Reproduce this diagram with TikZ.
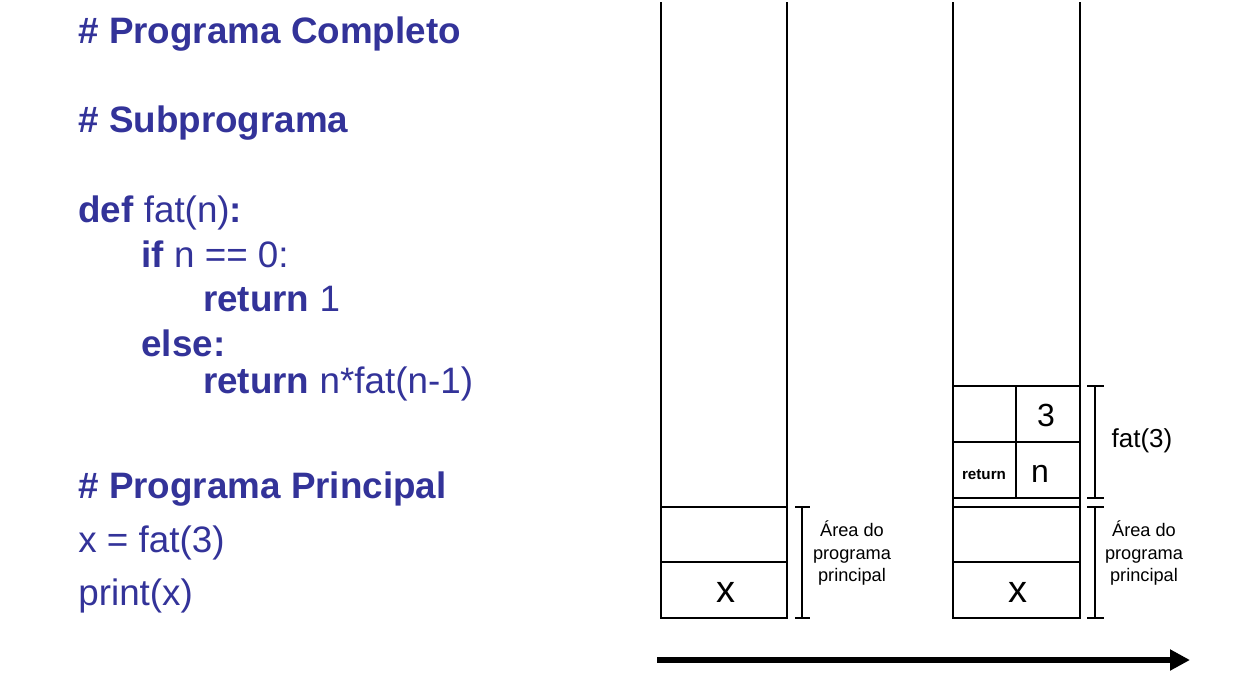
\documentclass[tikz,border=0pt]{standalone}
\usepackage{fontspec}
\setmainfont{Liberation Sans}
\usetikzlibrary{arrows.meta}
\definecolor{codeblue}{RGB}{51,51,153}

\begin{document}
\begin{tikzpicture}[x=0.5pt,y=-0.5pt,
  code/.style={anchor=base west,inner sep=0pt,text=codeblue,font=\fontsize{18.4}{22}\selectfont},
  stk/.style={line width=0.6pt},
  lbl/.style={inner sep=0pt,align=center,font=\fontsize{9.1}{11.3}\selectfont},
  val/.style={inner sep=0pt,font=\fontsize{16}{18}\selectfont}]
\useasboundingbox (0,0) rectangle (1258,676);
% program text
\node[code] (hCompleto) at (78,43.5) {\bfseries\# Programa Completo};
\node[code] (hSub) at (78,132) {\bfseries\# Subprograma};
\node[code] (lDef) at (78,222.5) {{\bfseries def} fat(n){\bfseries :}};
\node[code] (lIf) at (141,267) {{\bfseries if} n == 0:};
\node[code] (lRet) at (202.7,311.5) {{\bfseries return} 1};
\node[code] (lElse) at (141,356) {\bfseries else:};
\node[code] (lRetN) at (202.7,393.5) {{\bfseries return} n*fat(n-1)};
\node[code] (hPrincipal) at (78,498.5) {\bfseries\# Programa Principal};
\node[code] (lX) at (78,552.5) {x = fat(3)};
\node[code] (lPrint) at (78,605.5) {print(x)};
% stacks
\def\xA{661} \def\xB{787}
\def\xC{953} \def\xD{1080}
\draw[stk] (\xA,2) -- (\xA,618) -- (\xB,618) -- (\xB,2);
\foreach \y in {507,562} \draw[stk] (\xA,\y) -- (\xB,\y);
\draw[stk] (\xC,2) -- (\xC,618) -- (\xD,618) -- (\xD,2);
\foreach \y in {386,442,498,507,562} \draw[stk] (\xC,\y) -- (\xD,\y);
\draw[stk] (1016,386) -- (1016,498);
% brackets
\draw[stk] (795,507) -- (810,507) (802,507) -- (802,618) (795,618) -- (810,618);
\draw[stk] (1087,386) -- (1104,386) (1095,386) -- (1095,498) (1087,498) -- (1104,498);
\draw[stk] (1087,507) -- (1104,507) (1095,507) -- (1095,618) (1087,618) -- (1104,618);
% cell contents
\node[inner sep=0pt,font=\fontsize{19}{20}\selectfont] (xA) at (726,592) {x};
\node[inner sep=0pt,font=\fontsize{19}{20}\selectfont] (xB) at (1018,592) {x};
\node[val] (nVal) at (1046,415) {3};
\node[val] (nName) at (1040,474) {n};
\node[inner sep=0pt,font=\fontsize{7.6}{9}\selectfont\bfseries] (ret) at (984,475) {return};
\node[lbl] (areaA) at (852,553) {Área do\\programa\\principal};
\node[lbl] (areaB) at (1144,553) {Área do\\programa\\principal};
\node[inner sep=0pt,font=\fontsize{13}{15}\selectfont] (fatLbl) at (1142,441) {fat(3)};
% time arrow
\coordinate (tStart) at (657,660);
\coordinate (tEnd) at (1190,660);
\draw[line width=3pt,-{Triangle[length=10pt,width=10pt]}] (tStart) -- (tEnd);
\end{tikzpicture}
\end{document}
